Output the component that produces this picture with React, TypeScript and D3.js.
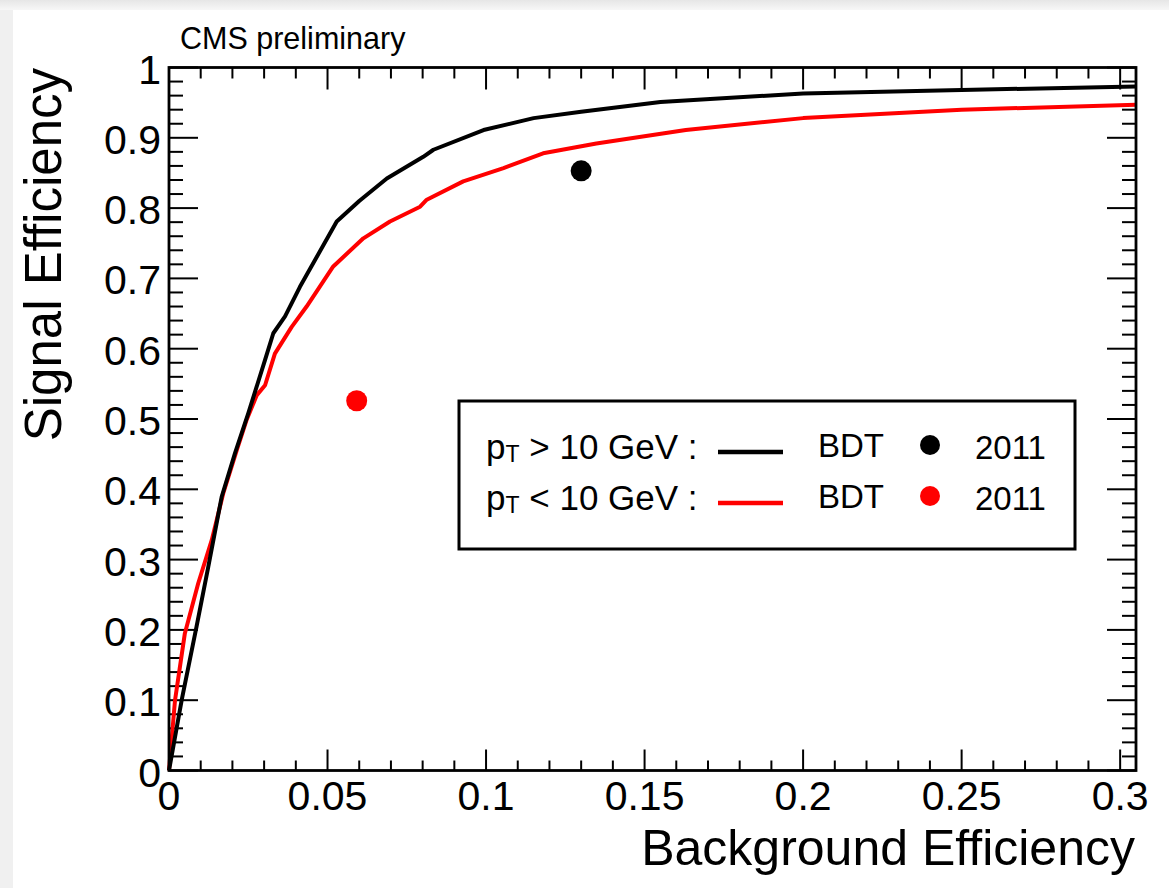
import React from "react";
import * as d3 from "d3";

// ROC curves: [background eff, signal eff]
const bdtHighPt: [number, number][] = [
  [0, 0], [0.004, 0.1], [0.0087, 0.205], [0.0124, 0.29], [0.0166, 0.389],
  [0.0208, 0.451], [0.025, 0.508], [0.0303, 0.584], [0.0329, 0.622],
  [0.0366, 0.646], [0.0413, 0.688], [0.0529, 0.781], [0.06, 0.81],
  [0.0687, 0.842], [0.0802, 0.873], [0.0834, 0.883], [0.0992, 0.911],
  [0.115, 0.928], [0.13, 0.937], [0.155, 0.951], [0.2, 0.963],
  [0.25, 0.968], [0.305, 0.973],
];
const bdtLowPt: [number, number][] = [
  [0, 0], [0.0019, 0.1], [0.005, 0.195], [0.0092, 0.266], [0.0135, 0.328],
  [0.0171, 0.394], [0.0214, 0.456], [0.0245, 0.499], [0.0277, 0.534],
  [0.0303, 0.548], [0.0334, 0.593], [0.0387, 0.631], [0.0434, 0.66],
  [0.0518, 0.717], [0.0613, 0.757], [0.0697, 0.781], [0.0792, 0.802],
  [0.0813, 0.812], [0.0928, 0.838], [0.1055, 0.857], [0.118, 0.878],
  [0.1348, 0.892], [0.163, 0.911], [0.2, 0.928], [0.25, 0.94],
  [0.305, 0.947],
];
// 2011 working points
const wp2011 = [
  { x: 0.13, y: 0.853, color: "#000000" },
  { x: 0.0592, y: 0.526, color: "#ff0000" },
];
const xTicks = [0, 0.05, 0.1, 0.15, 0.2, 0.25, 0.3];
const xTickLabels = ["0", "0.05", "0.1", "0.15", "0.2", "0.25", "0.3"];
const yTicks = [0, 0.1, 0.2, 0.3, 0.4, 0.5, 0.6, 0.7, 0.8, 0.9, 1];
const yTickLabels = ["0", "0.1", "0.2", "0.3", "0.4", "0.5", "0.6", "0.7", "0.8", "0.9", "1"];
const legendRows = [
  { sign: ">", color: "#000000" },
  { sign: "<", color: "#ff0000" },
];

const W = 1169, H = 888;
const font = "'Liberation Sans', Arial, Helvetica, sans-serif";

export default function App() {
  const x = d3.scaleLinear().domain([0, 0.305]).range([169, 1136]);
  const y = d3.scaleLinear().domain([0, 1]).range([770.5, 67.5]);
  const line = d3.line<[number, number]>().x((d) => x(d[0])).y((d) => y(d[1]));

  const xMinor = d3.range(0, 31).map((i) => i / 100).filter((v) => v <= 0.305);
  const yMinor = d3.range(0, 51).map((i) => i / 50);
  const [x0, x1] = x.range();
  const [y0, y1] = y.range();

  return (
    <svg width={W} height={H} style={{ position: "absolute", left: 0, top: 0 }} fontFamily={font}>
      <defs>
        <linearGradient id="topShade" x1="0" y1="0" x2="0" y2="1">
          <stop offset="0" stopColor="#e6e6e6" />
          <stop offset="1" stopColor="#f7f7f7" />
        </linearGradient>
      </defs>
      <rect width={W} height={H} fill="#f0f0f0" />
      <rect width={W} height={10} fill="url(#topShade)" />
      <rect x={13} y={10} width={W - 13} height={H - 10} fill="#ffffff" />

      {/* ticks */}
      <g stroke="#000" strokeWidth={2}>
        {xMinor.map((v, i) => {
          const major = i % 5 === 0;
          return (
            <g key={"x" + i}>
              <line x1={x(v)} x2={x(v)} y1={y0} y2={y0 - (major ? 21 : 10)} />
              <line x1={x(v)} x2={x(v)} y1={y1} y2={y1 + (major ? 22 : 11)} />
            </g>
          );
        })}
        {yMinor.map((v, i) => {
          const major = i % 5 === 0;
          return (
            <g key={"y" + i}>
              <line x1={x0} x2={x0 + (major ? 29 : 14)} y1={y(v)} y2={y(v)} />
              <line x1={x1} x2={x1 - (major ? 29 : 14)} y1={y(v)} y2={y(v)} />
            </g>
          );
        })}
      </g>

      {/* curves */}
      <path d={line(bdtLowPt) ?? ""} fill="none" stroke="#ff0000" strokeWidth={4} strokeLinejoin="round" />
      <path d={line(bdtHighPt) ?? ""} fill="none" stroke="#000000" strokeWidth={4} strokeLinejoin="round" />
      {wp2011.map((p, i) => (
        <circle key={i} cx={x(p.x)} cy={y(p.y)} r={10.5} fill={p.color} />
      ))}

      {/* frame */}
      <rect x={x0} y={y1} width={x1 - x0} height={y0 - y1} fill="none" stroke="#000" strokeWidth={2.8} />

      {/* tick labels */}
      <g fontSize={41} fill="#000">
        {xTicks.map((v, i) => (
          <text key={i} x={x(v)} y={810} textAnchor="middle">{xTickLabels[i]}</text>
        ))}
        {yTicks.map((v, i) => (
          <text key={i} x={161} y={y(v) + 16} textAnchor="end">{yTickLabels[i]}</text>
        ))}
      </g>

      {/* titles */}
      <text x={1135} y={865} fontSize={50} textAnchor="end">Background Efficiency</text>
      <text transform={`translate(61,68) rotate(-90)`} fontSize={51} textAnchor="end">Signal Efficiency</text>
      <text x={180} y={49} fontSize={30.5}>CMS preliminary</text>

      {/* legend */}
      <rect x={459} y={401} width={616} height={148} fill="#fff" stroke="#000" strokeWidth={3} />
      {legendRows.map((r, i) => {
        const by = 459 + i * 51;
        return (
          <g key={i} fontSize={33}>
            <text x={486} y={by} fontSize={35}>
              p<tspan fontSize={23} dy={3}>T</tspan>
              <tspan dy={-3}>{" " + r.sign} 10 GeV :</tspan>
            </text>
            <line x1={718} x2={783} y1={by - 7} y2={by - 7} stroke={r.color} strokeWidth={4.5} />
            <text x={818} y={by - 2}>BDT</text>
            <circle cx={930} cy={by - 14} r={10} fill={r.color} />
            <text x={975} y={by}>2011</text>
          </g>
        );
      })}
    </svg>
  );
}
